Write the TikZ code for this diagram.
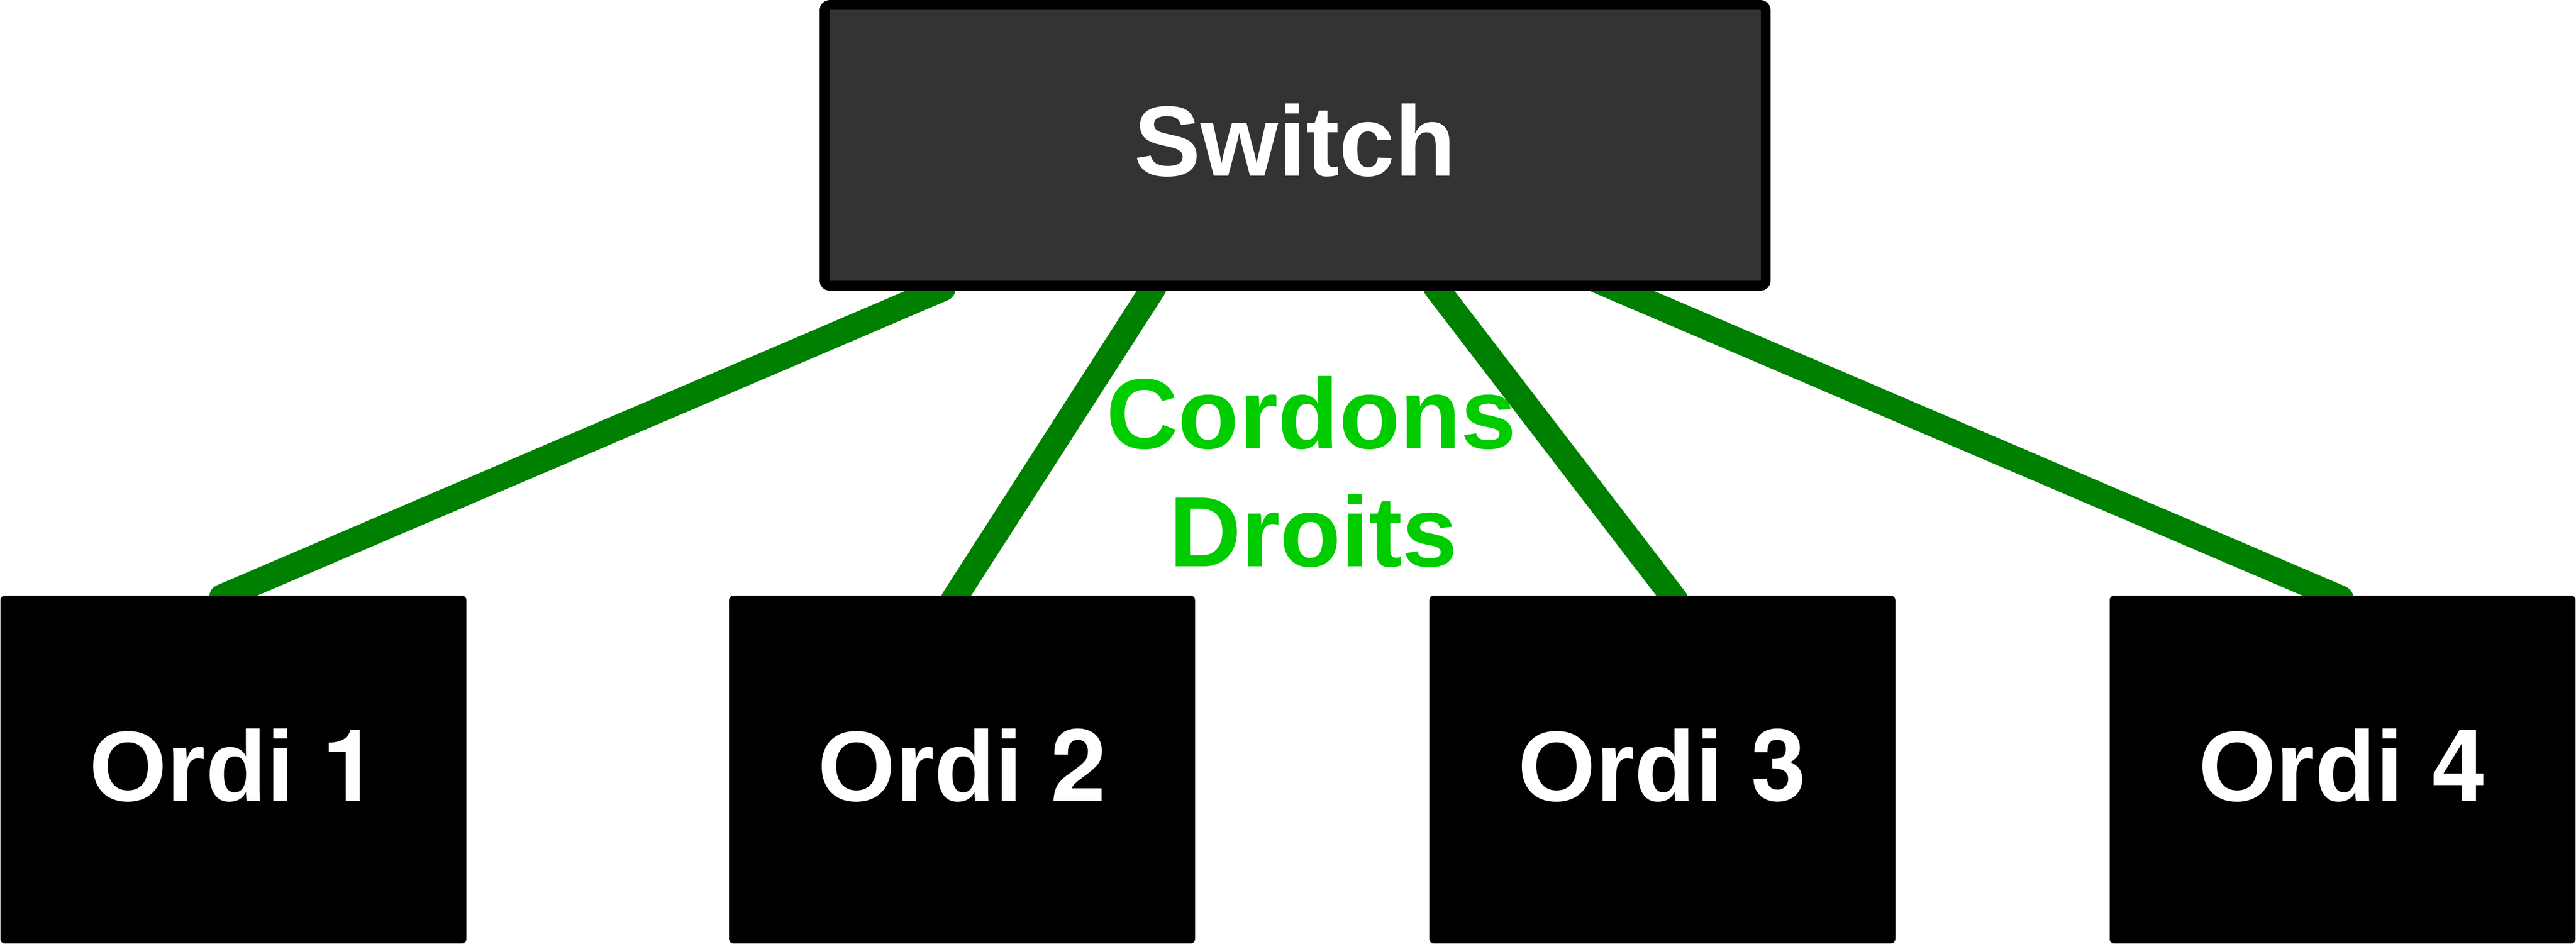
\documentclass[tikz,border=0pt]{standalone}
\usepackage{fontspec}
\setmainfont{Liberation Sans}
\newfontfamily\digitfont{TeX Gyre Heros}
\usetikzlibrary{backgrounds}
\definecolor{swfill}{HTML}{333333}
\definecolor{cable}{HTML}{008000}
\definecolor{labelgreen}{HTML}{00CC00}
\begin{document}
\begin{tikzpicture}[
  switchbox/.style={draw=black, fill=swfill, line width=0.22cm, rounded corners=0.12cm,
    minimum width=21.21cm, minimum height=6.33cm, inner sep=0pt, text depth=0.26cm,
    text=white, font=\fontsize{64}{77}\selectfont\bfseries},
  ordibox/.style={fill=black, rounded corners=0.1cm,
    minimum width=10.5cm, minimum height=7.84cm, inner sep=0pt, text depth=0.22cm,
    text=white, font=\fontsize{64}{77}\selectfont\bfseries},
  cord/.style={draw=cable, line width=0.57cm, line cap=round},
  cordlabel/.style={text=labelgreen, font=\fontsize{64}{77}\selectfont\bfseries, inner sep=0pt}
]
\useasboundingbox (0,0) rectangle (58.05,-21.26);

\node[switchbox] (sw) at (29.185,-3.275) {Switch};
\node[ordibox] (o1) at (5.26,-17.34) {Ordi {\digitfont\bfseries 1}};
\node[ordibox] (o2) at (21.68,-17.34) {Ordi {\digitfont\bfseries 2}};
\node[ordibox] (o3) at (37.46,-17.34) {Ordi {\digitfont\bfseries 3}};
\node[ordibox] (o4) at (52.79,-17.34) {Ordi {\digitfont\bfseries 4}};

\coordinate (s1) at (21.25,-6.50);
\coordinate (s2) at (26.00,-6.48);
\coordinate (s3) at (32.36,-6.48);
\coordinate (s4) at (35.60,-6.15);
\coordinate (p1) at (5.00,-13.45);
\coordinate (p2) at (21.48,-13.52);
\coordinate (p3) at (37.76,-13.52);
\coordinate (p4) at (52.75,-13.48);

\begin{scope}[on background layer]
  \draw[cord] (s1) -- (p1);
  \draw[cord] (s2) -- (p2);
  \draw[cord] (s3) -- (p3);
  \draw[cord] (s4) -- (p4);
\end{scope}

\node[cordlabel, anchor=base] (lab1) at (29.55,-10.11) {Cordons};
\node[cordlabel, anchor=base] (lab2) at (29.60,-12.77) {Droits};
\end{tikzpicture}
\end{document}
